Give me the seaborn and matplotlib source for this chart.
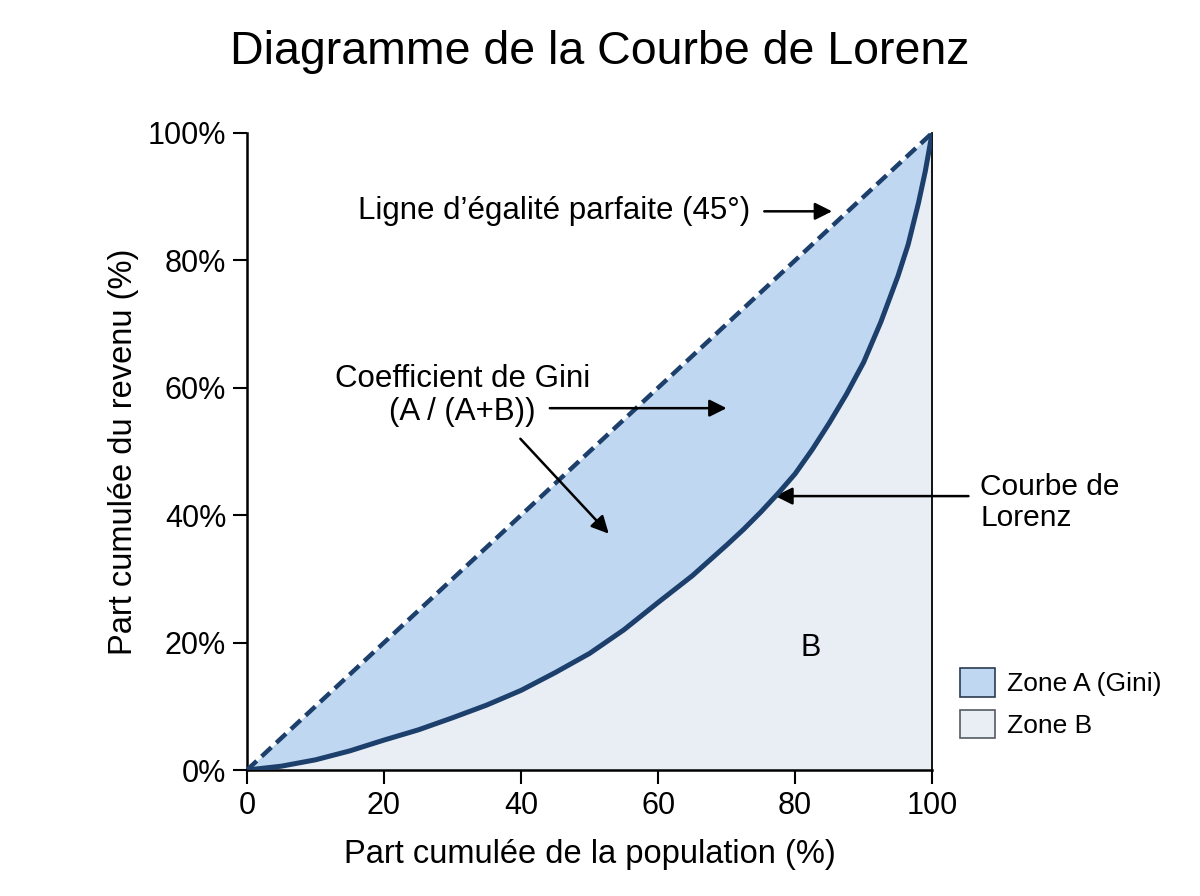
import matplotlib
matplotlib.use("Agg")
import matplotlib.pyplot as plt
from matplotlib.patches import Patch
import seaborn as sns
import pandas as pd

# values
population = [0, 5, 10, 15, 20, 25, 30, 35, 40, 45, 50, 55, 60, 65, 70, 72.5, 75, 77.5,
              80, 82.5, 85, 87.5, 90, 92.5, 95, 96.5, 98, 99, 100]
income = [0, 0.6, 1.6, 3.0, 4.7, 6.3, 8.2, 10.2, 12.5, 15.3, 18.3, 22.0, 26.3, 30.5, 35.3, 37.8, 40.5, 43.4,
          46.5, 50.3, 54.5, 59.0, 64.0, 70.3, 77.5, 82.5, 89.0, 94.0, 100]
equality = population
yticks = [0, 20, 40, 60, 80, 100]
xticks = [0, 20, 40, 60, 80, 100]
legend_labels = ["Zone A (Gini)", "Zone B"]

navy = "#1c3f6c"
zone_a = "#bfd7f1"
zone_b = "#e9eef5"

sns.set_theme(style="white")
plt.rcParams["font.family"] = ["Liberation Sans", "DejaVu Sans"]
plt.rcParams["text.color"] = "black"
plt.rcParams["axes.labelcolor"] = "black"

df = pd.DataFrame({"population": population, "income": income, "equality": equality})

fig = plt.figure(figsize=(12, 8.96), dpi=100)
ax = fig.add_axes([0.2058, 0.1406, 0.571, 0.711])

ax.fill_between(df["population"], 0, df["income"], color=zone_b, linewidth=0, zorder=1)
ax.fill_between(df["population"], df["income"], df["equality"], color=zone_a, linewidth=0, zorder=1)

sns.lineplot(data=df, x="population", y="equality", ax=ax, color=navy,
             linewidth=3.2, linestyle=(0, (3.0, 1.5)), zorder=3)
sns.lineplot(data=df, x="population", y="income", ax=ax, color=navy,
             linewidth=3.6, zorder=4, solid_joinstyle="round", solid_capstyle="round")

ax.set_xlim(0, 100)
ax.set_ylim(0, 100)
ax.set_xticks(xticks)
ax.set_yticks(yticks)
ax.set_xticklabels([str(t) for t in xticks])
ax.set_yticklabels([f"{t}%" for t in yticks])
ax.tick_params(axis="both", which="both", direction="out", length=10, width=1.5,
               colors="black", labelsize=22, bottom=True, left=True, pad=5)
ax.spines["top"].set_visible(False)
for side in ["left", "bottom"]:
    ax.spines[side].set_color("black")
    ax.spines[side].set_linewidth(1.8)
ax.spines["right"].set_color("black")
ax.spines["right"].set_linewidth(1.3)

ax.set_xlabel("Part cumulée de la population (%)", fontsize=23.5, labelpad=13)
ax.set_ylabel("Part cumulée du revenu (%)", fontsize=23.5, labelpad=6)
fig.suptitle("Diagramme de la Courbe de Lorenz", fontsize=33.5, y=0.967)

arrow = dict(arrowstyle="-|>", color="black", lw=1.8, mutation_scale=26, shrinkA=0, shrinkB=0)

ax.text(73.5, 87.7, "Ligne d’égalité parfaite (45°)", fontsize=22.5, ha="right", va="center")
ax.annotate("", xy=(85.4, 87.7), xytext=(75.5, 87.7), arrowprops=arrow)

ax.text(31.5, 58.8, "Coefficient de Gini\n(A / (A+B))", fontsize=22.5, ha="center", va="center",
        linespacing=1.1)
ax.annotate("", xy=(70.0, 56.8), xytext=(44.2, 56.8), arrowprops=arrow)
ax.annotate("", xy=(52.8, 37.1), xytext=(39.9, 52.0), arrowprops=arrow)

ax.text(107.0, 42.0, "Courbe de\nLorenz", fontsize=21.5, ha="left", va="center",
        linespacing=1.1, clip_on=False)
ax.annotate("", xy=(77.1, 43.0), xytext=(105.3, 43.0), arrowprops=arrow,
            annotation_clip=False)

ax.text(82.2, 19.1, "B", fontsize=22, ha="center", va="center")

handles = [Patch(facecolor=zone_a, edgecolor="#2b3b4f", linewidth=1.2),
           Patch(facecolor=zone_b, edgecolor="#555b63", linewidth=1.2)]
fig.legend(handles, legend_labels, loc="upper left", bbox_to_anchor=(0.7915, 0.2665),
           frameon=False, fontsize=19, handlelength=1.3, handleheight=1.3,
           handletextpad=0.45, labelspacing=0.5, borderaxespad=0)

fig.savefig("out.png", dpi=100)
